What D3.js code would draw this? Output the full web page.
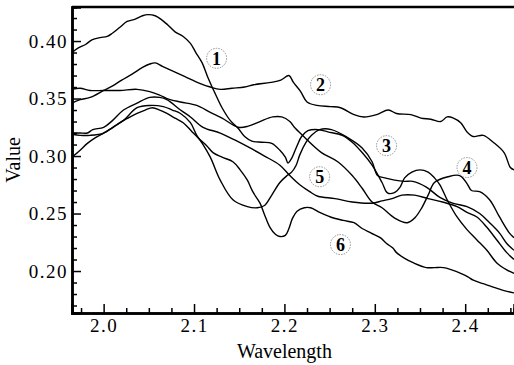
<!DOCTYPE html>
<html>
<head>
<meta charset="utf-8">
<script src="https://cdn.jsdelivr.net/npm/d3@7/dist/d3.min.js"></script>
<style>
  body { margin: 0; background: #fff; }
  svg { display: block; }
  text { font-family: "Liberation Serif", "Times New Roman", serif; fill: #000; }
</style>
</head>
<body>
<svg id="svg"></svg>
<script>
// spectra (wavelength / value pairs per curve)
const wl1 = [1.965,1.972,1.980,1.987,1.996,2.004,2.010,2.018,2.026,2.035,2.043,2.049,2.057,2.065,2.071,2.079,2.088,2.096,2.102,2.109,2.115,2.123,2.131,2.140,2.149,2.156,2.164,2.175,2.186,2.195,2.201,2.204,2.208,2.214,2.219,2.226,2.237,2.248,2.264,2.275,2.286,2.297,2.308,2.314,2.321,2.328,2.333,2.341,2.350,2.359,2.366,2.372,2.380,2.391,2.402,2.413,2.424,2.435,2.446,2.454];
const val1 = [.390,.394,.397,.401,.403,.404,.407,.412,.417,.419,.422,.423,.422,.418,.414,.408,.404,.398,.390,.381,.369,.355,.342,.331,.324,.317,.313,.312,.311,.305,.299,.294,.298,.309,.317,.322,.323,.321,.318,.312,.303,.292,.277,.268,.268,.273,.281,.286,.288,.286,.281,.275,.262,.247,.236,.227,.218,.207,.201,.198];

const wl2 = [1.965,1.974,1.985,2.000,2.010,2.020,2.031,2.043,2.051,2.057,2.065,2.076,2.090,2.107,2.118,2.129,2.142,2.156,2.166,2.185,2.196,2.205,2.210,2.218,2.225,2.236,2.251,2.262,2.277,2.288,2.302,2.315,2.324,2.340,2.351,2.362,2.373,2.380,2.387,2.395,2.402,2.409,2.420,2.431,2.443,2.450,2.454];
const val2 = [.346,.349,.351,.357,.361,.366,.371,.377,.380,.381,.378,.374,.369,.363,.360,.358,.359,.360,.362,.364,.366,.370,.364,.356,.347,.344,.343,.342,.336,.334,.336,.340,.337,.336,.333,.332,.330,.334,.333,.329,.321,.317,.318,.312,.303,.290,.288];

const wl3 = [1.965,1.974,1.985,2.000,2.010,2.022,2.037,2.051,2.066,2.076,2.085,2.096,2.103,2.110,2.118,2.129,2.143,2.159,2.170,2.178,2.186,2.195,2.203,2.208,2.213,2.217,2.224,2.230,2.239,2.252,2.270,2.286,2.297,2.303,2.311,2.322,2.333,2.342,2.357,2.372,2.386,2.402,2.416,2.427,2.438,2.446,2.454];
const val3 = [.319,.318,.318,.320,.325,.331,.342,.344,.343,.340,.337,.329,.318,.310,.299,.279,.262,.256,.255,.257,.266,.277,.283,.286,.292,.301,.312,.318,.323,.323,.316,.307,.295,.283,.281,.279,.278,.278,.273,.264,.259,.256,.250,.242,.233,.224,.218];

const wl4 = [1.965,1.974,1.985,2.000,2.018,2.037,2.051,2.062,2.070,2.085,2.103,2.118,2.131,2.149,2.160,2.173,2.187,2.197,2.206,2.211,2.220,2.241,2.259,2.275,2.286,2.297,2.308,2.322,2.336,2.344,2.352,2.359,2.366,2.381,2.394,2.402,2.407,2.416,2.427,2.438,2.449,2.454];
const val4 = [.358,.359,.357,.357,.357,.358,.356,.353,.350,.347,.344,.338,.333,.325,.326,.330,.334,.334,.330,.325,.318,.303,.295,.283,.272,.260,.255,.246,.242,.246,.255,.266,.277,.282,.283,.276,.270,.269,.262,.247,.233,.229];

const wl5 = [1.965,1.974,1.982,1.988,2.000,2.010,2.022,2.037,2.051,2.062,2.070,2.085,2.096,2.110,2.129,2.145,2.162,2.178,2.195,2.206,2.217,2.228,2.237,2.256,2.275,2.297,2.308,2.319,2.330,2.344,2.359,2.375,2.391,2.402,2.413,2.424,2.435,2.446,2.454];
const val5 = [.320,.320,.320,.323,.325,.331,.340,.346,.351,.351,.349,.340,.334,.325,.320,.314,.307,.300,.292,.283,.275,.269,.265,.263,.260,.259,.261,.263,.266,.266,.263,.260,.256,.251,.247,.238,.227,.216,.210];

const wl6 = [1.965,1.974,1.982,1.991,2.000,2.009,2.018,2.027,2.037,2.046,2.054,2.062,2.070,2.079,2.088,2.098,2.107,2.114,2.121,2.131,2.143,2.151,2.159,2.165,2.173,2.178,2.184,2.190,2.195,2.201,2.205,2.209,2.214,2.222,2.229,2.239,2.251,2.265,2.277,2.286,2.296,2.306,2.313,2.320,2.324,2.333,2.343,2.357,2.366,2.376,2.385,2.395,2.403,2.409,2.420,2.431,2.443,2.454];
const val6 = [.299,.305,.311,.316,.320,.324,.329,.333,.337,.340,.342,.340,.337,.333,.329,.321,.314,.309,.303,.299,.295,.288,.279,.269,.259,.249,.238,.232,.230,.231,.237,.246,.252,.255,.255,.251,.247,.244,.242,.237,.233,.229,.224,.220,.216,.211,.207,.203,.203,.203,.201,.198,.195,.192,.189,.186,.183,.181];

// circled curve numbers
const labelText = ['1','2','3','4','5','6'];
const labelWl = [2.125, 2.240, 2.313, 2.402, 2.239, 2.262];
const labelVal = [0.385, 0.362, 0.309, 0.290, 0.282, 0.223];

const xMajor = [2.0, 2.1, 2.2, 2.3, 2.4];
const yMajor = [0.20, 0.25, 0.30, 0.35, 0.40];

const svgWidth = 514, svgHeight = 365;
const pad = {top: 7, right: 0, bottom: 52, left: 72};
const w = svgWidth - pad.left - pad.right;
const h = svgHeight - pad.top - pad.bottom;

const svg = d3.select('#svg').attr('width', svgWidth).attr('height', svgHeight);

const xScale = d3.scaleLinear().domain([1.965, 2.454]).range([0, w]);
const yScale = d3.scaleLinear().domain([0.1635, 0.4296]).range([h, 0]);

const g = svg.append('g').attr('transform', `translate(${pad.left},${pad.top})`);

g.append('clipPath').attr('id', 'clip')
  .append('rect').attr('width', w).attr('height', h);

const series = [[wl1, val1], [wl2, val2], [wl3, val3], [wl4, val4], [wl5, val5], [wl6, val6]]
  .map(([xs, ys]) => xs.map((x, i) => [x, ys[i]]));

const line = d3.line()
  .x(d => xScale(d[0]))
  .y(d => yScale(d[1]))
  .curve(d3.curveCatmullRom.alpha(0.5));

g.append('g').attr('clip-path', 'url(#clip)')
  .selectAll('path')
  .data(series)
  .enter()
  .append('path')
  .attr('d', line)
  .attr('fill', 'none')
  .attr('stroke', '#000')
  .attr('stroke-width', 1.4);

// axes, ticks pointing inward
const xMinor = d3.range(1.975, 2.451, 0.025).filter(v => !xMajor.some(m => Math.abs(m - v) < 1e-6));
const yMinor = d3.range(0.17, 0.4251, 0.01).filter(v => !yMajor.some(m => Math.abs(m - v) < 1e-6));

const xAxis = g.append('g').attr('transform', `translate(0,${h})`)
  .call(d3.axisBottom(xScale).tickValues(xMajor).tickFormat(d3.format('.1f')).tickSize(-9).tickPadding(6));
xAxis.append('g')
  .call(d3.axisBottom(xScale).tickValues(xMinor).tickFormat('').tickSize(-5));

const yAxis = g.append('g')
  .call(d3.axisLeft(yScale).tickValues(yMajor).tickFormat(d3.format('.2f')).tickSize(-9).tickPadding(4));
yAxis.append('g')
  .call(d3.axisLeft(yScale).tickValues(yMinor).tickFormat('').tickSize(-5));

g.selectAll('.domain').attr('stroke', '#000').attr('stroke-width', 2.5);
g.selectAll('.tick line').attr('stroke', '#000').attr('stroke-width', 1.5);
g.selectAll('.tick text')
  .style('font-family', '"Liberation Serif", serif')
  .style('font-size', '19px')
  .style('letter-spacing', '1.5px')
  .attr('fill', '#000');

// top frame line
g.append('line')
  .attr('x1', 0).attr('x2', w).attr('y1', 0).attr('y2', 0)
  .attr('stroke', '#000').attr('stroke-width', 2.5);

// axis titles
svg.append('text')
  .attr('x', pad.left + xScale(2.2)).attr('y', 358)
  .attr('text-anchor', 'middle')
  .style('font-size', '20px')
  .text('Wavelength');

svg.append('text')
  .attr('transform', `translate(20,${pad.top + yScale(0.2966)}) rotate(-90)`)
  .attr('text-anchor', 'middle')
  .style('font-size', '20px')
  .text('Value');

// numbered markers
const marks = g.selectAll('.mark')
  .data(labelText)
  .enter()
  .append('g')
  .attr('class', 'mark')
  .attr('transform', (d, i) => `translate(${xScale(labelWl[i])},${yScale(labelVal[i])})`);

marks.append('circle')
  .attr('r', 10)
  .attr('fill', '#fff')
  .attr('stroke', '#777')
  .attr('stroke-width', 0.8)
  .attr('stroke-dasharray', '1.5,1.2');

marks.append('text')
  .attr('text-anchor', 'middle')
  .attr('dy', '0.35em')
  .style('font-size', '18px')
  .style('font-weight', 'bold')
  .text(d => d);
</script>
</body>
</html>
